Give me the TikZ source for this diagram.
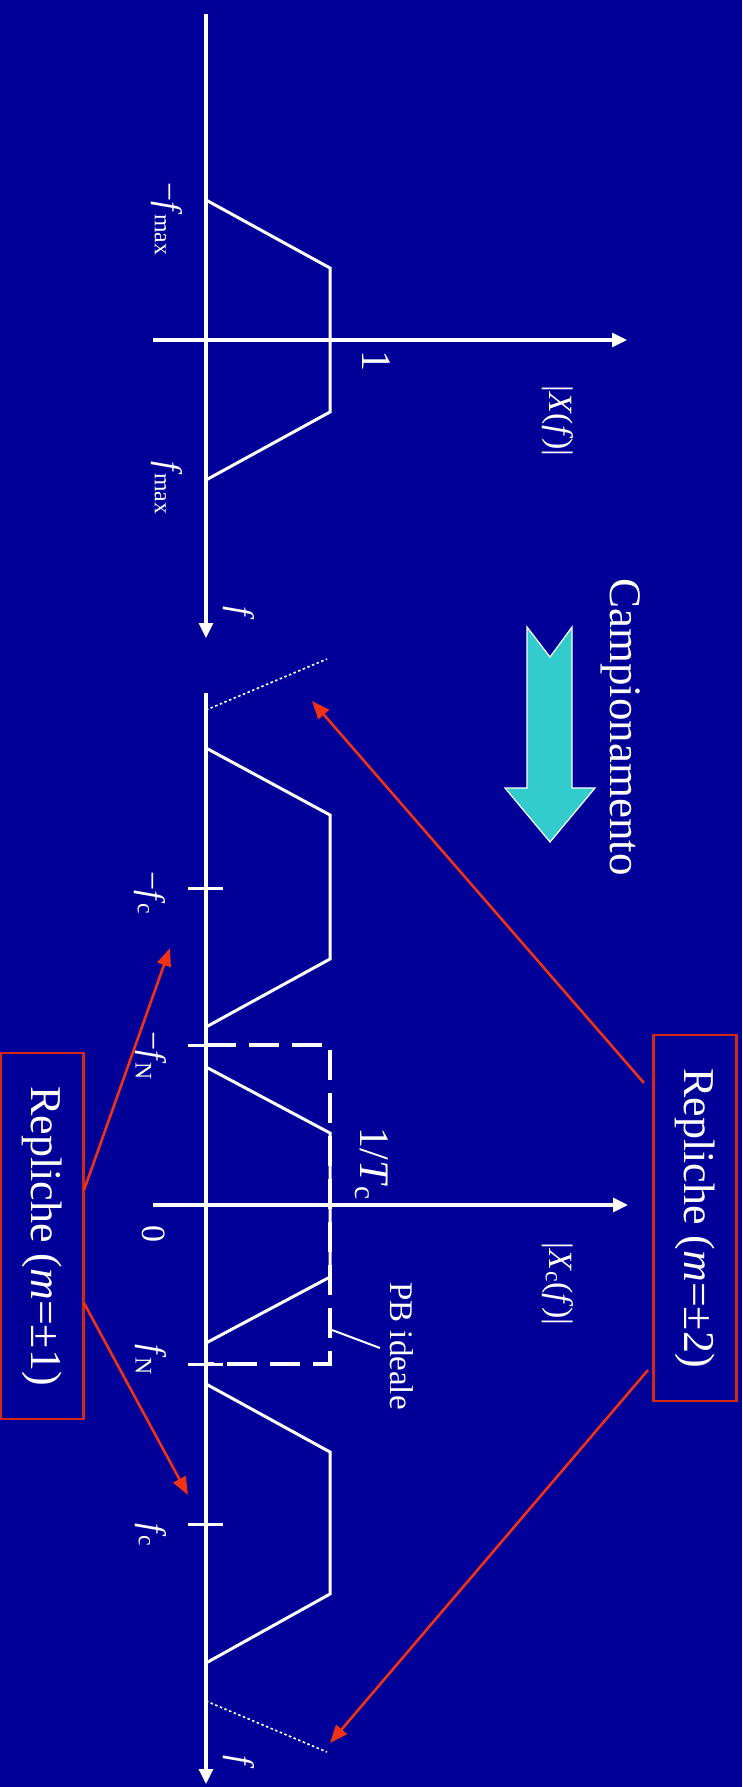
\documentclass[tikz,border=0pt]{standalone}
\usepackage{fontspec}
\setmainfont{Liberation Serif}
\usetikzlibrary{arrows.meta}
\definecolor{bgblue}{RGB}{0,0,153}
\definecolor{boxred}{RGB}{210,40,20}
\definecolor{arrred}{RGB}{240,50,20}
\definecolor{cyanarrow}{RGB}{51,204,204}
\tikzset{
  axisline/.style={white, line width=3.2pt, -{Triangle[length=15pt,width=14pt]}},
  spec/.style={white, line width=3pt, line join=miter},
  tickmark/.style={white, line width=3pt},
  dashbox/.style={white, line width=3.4pt, dash pattern=on 30pt off 13pt},
  dotline/.style={white, line width=1.6pt, dash pattern=on 2.5pt off 2.5pt},
  lbl/.style={text=white, rotate=-90, inner sep=0pt, font=\fontsize{34}{38}\selectfont},
  biglbl/.style={text=white, rotate=-90, inner sep=0pt, font=\fontsize{42}{46}\selectfont},
  redbox/.style={draw=boxred, line width=2.8pt, text=white, rotate=-90, inner sep=0pt,
     minimum width=366pt, minimum height=83pt, font=\fontsize{44}{48}\selectfont},
  redarrow/.style={arrred, line width=2.6pt, -{Triangle[length=18pt,width=14pt]}},
}
\begin{document}
\begin{tikzpicture}[x=1pt,y=-1pt]
\fill[bgblue] (0,0) rectangle (742,1787);
\useasboundingbox (0,0) rectangle (742,1787);

% ---------- top spectrum |X(f)| ----------
\coordinate (ftopS) at (206,14);
\coordinate (ftopE) at (206,638);
\draw[axisline] (ftopS) -- (ftopE);
\coordinate (atopS) at (153,340);
\coordinate (atopE) at (627,340);
\draw[axisline] (atopS) -- (atopE);
\draw[spec] (206,200) -- (330,268) -- (330,412) -- (206,480);

\node[lbl] (mfmax) at (167,219) {−\textit{f}\kern-1pt\textsubscript{max}};
\node[lbl] (fmax) at (167,488) {\textit{f}\kern-1pt\textsubscript{max}};
\node[biglbl] (one) at (376,361) {1};
\node[lbl] (Xf) at (558,421) {|\textit{X}(\textit{f})|};
\node[lbl] (ftop) at (239,613) {\textit{f}};

% ---------- Campionamento ----------
\node[text=white, rotate=-90, inner sep=0pt, font=\fontsize{45}{48}\selectfont] (camp) at (621,727) {Campionamento};
\fill[cyanarrow, draw=white, line width=1.2pt, line join=miter]
  (527,627) -- (550,657) -- (572,627) -- (572,788) -- (595,788) -- (550,842)
  -- (505,788) -- (527,788) -- cycle;

% ---------- sampled spectrum |Xc(f)| ----------
\coordinate (fbotS) at (206,693);
\coordinate (fbotE) at (206,1784);
\draw[axisline] (fbotS) -- (fbotE);
\coordinate (abotS) at (153,1205);
\coordinate (abotE) at (628,1205);
\draw[axisline] (abotS) -- (abotE);

% replicas
\draw[spec] (206,748) -- (330,815) -- (330,959) -- (206,1027);
\draw[spec] (206,1067) -- (330,1133) -- (330,1277) -- (206,1343);
\draw[spec] (206,1384) -- (330,1452) -- (330,1594) -- (206,1663);
\draw[dotline] (206,710) -- (327,659);
\draw[dotline] (206,1701) -- (327,1752);

% ideal low-pass
\draw[dashbox] (206,1045) -- (330,1045) -- (330,1364) -- (206,1364);

% ticks
\draw[tickmark] (188,888) -- (223,888);
\draw[tickmark] (188,1045) -- (223,1045);
\draw[tickmark] (188,1364) -- (223,1364);
\draw[tickmark] (188,1524) -- (223,1524);

\node[lbl] (mfc) at (150,893) {−\textit{f}\kern-1pt\textsubscript{c}};
\node[lbl] (mfN) at (151,1056) {−\textit{f}\kern-1pt\textsubscript{N}};
\node[lbl] (zero) at (154,1234) {0};
\node[lbl] (fN) at (151,1360) {\textit{f}\kern-1pt\textsubscript{N}};
\node[lbl] (fc) at (151,1535) {\textit{f}\kern-1pt\textsubscript{c}};
\node[lbl] (fbot) at (239,1762) {\textit{f}};
\node[biglbl] (invT) at (372,1164) {1/\textit{T}\textsubscript{c}};
\node[lbl] (Xcf) at (558,1284) {|\textit{X}\textsubscript{c}(\textit{f})|};
\node[lbl, font=\fontsize{33}{36}\selectfont] (pb) at (402,1346) {PB ideale};
\coordinate (pbptr) at (380,1348);
\coordinate (pbtip) at (332,1330);
\draw[white, line width=2pt] (pbtip) -- (pbptr);

% ---------- Repliche boxes ----------
\node[redbox] (rep2) at (695,1218) {Repliche (\textit{m}=±2)};
\node[redbox] (rep1) at (42,1236) {Repliche (\textit{m}=±1)};

\coordinate (r2a) at (644,1083);
\coordinate (r2b) at (648,1370);
\coordinate (t2a) at (312,701);
\coordinate (t2b) at (330,1743);
\draw[redarrow] (r2a) -- (t2a);
\draw[redarrow] (r2b) -- (t2b);

\coordinate (r1a) at (84,1190);
\coordinate (r1b) at (84,1303);
\coordinate (t1a) at (170,948);
\coordinate (t1b) at (188,1495);
\draw[redarrow] (r1a) -- (t1a);
\draw[redarrow] (r1b) -- (t1b);
\end{tikzpicture}
\end{document}
